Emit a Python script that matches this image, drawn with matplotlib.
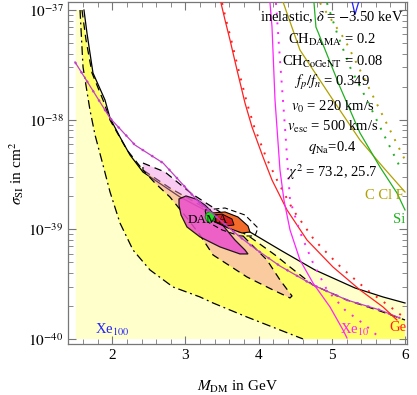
import numpy as np
import matplotlib
matplotlib.use("Agg")
import matplotlib.pyplot as plt
from matplotlib.ticker import MultipleLocator, FixedLocator, NullFormatter

plt.rcParams['font.family'] = ['Liberation Serif', 'DejaVu Serif']
plt.rcParams['mathtext.fontset'] = 'stix'

# ---------------- data (x in GeV, y as log10 of cross-section in cm^2) -------------
# outer (light yellow) region upper boundary - solid black
solid_x = [1.613, 1.654, 1.736, 1.900, 1.969, 2.105, 2.242, 2.419, 2.925, 3.471, 3.881, 4.318, 4.769, 5.315, 5.698, 5.999]
solid_ly = [-37.0, -37.21, -37.574, -37.82, -37.985, -38.158, -38.322, -38.477, -38.705, -38.896, -39.024, -39.197, -39.37, -39.534, -39.616, -39.671]

# bright yellow region upper boundary - dashed
dash_x = [1.586, 1.641, 1.723, 1.873, 1.969, 2.201, 2.419, 2.788, 3.198, 3.540, 3.881, 4.223, 4.428, 4.742, 5.206, 5.657, 5.999]
dash_ly = [-37.0, -37.273, -37.574, -37.82, -38.003, -38.276, -38.459, -38.623, -38.778, -38.933, -39.069, -39.233, -39.343, -39.507, -39.644, -39.744, -39.826]

# bright yellow region lower boundary - dash-dot
dd_x = [1.559, 1.600, 1.695, 1.764, 1.873, 1.969, 2.105, 2.283, 2.515, 2.829, 3.198, 3.376, 3.840, 4.291, 4.605]
dd_ly = [-37.0, -37.52, -37.912, -38.139, -38.413, -38.659, -38.942, -39.188, -39.37, -39.525, -39.616, -39.671, -39.799, -39.917, -39.999]

# big CoGeNT-like ellipse (pink, dashed edge)
pink_x = [2.419, 2.720, 3.089, 3.471, 3.840, 4.113, 4.291, 4.455, 4.428, 4.195, 3.840, 3.376, 3.198, 3.020, 2.788, 2.583, 2.419]
pink_ly = [-38.395, -38.477, -38.677, -38.841, -39.097, -39.279, -39.461, -39.607, -39.625, -39.552, -39.434, -39.233, -39.051, -38.896, -38.705, -38.577, -38.459]

# inner magenta region
mag_x = [2.911, 3.007, 3.143, 3.266, 3.403, 3.540, 3.676, 3.813, 3.854, 3.744, 3.471, 3.198, 3.020, 2.939, 2.911]
mag_ly = [-38.723, -38.695, -38.723, -38.778, -38.869, -38.987, -39.097, -39.188, -39.224, -39.224, -39.160, -39.069, -38.978, -38.869, -38.778]

# orange region, its dashed outer contour, red core, green blob
org_x = [3.362, 3.540, 3.717, 3.854, 3.881, 3.772, 3.581, 3.403, 3.335]
org_ly = [-38.851, -38.841, -38.887, -38.969, -39.024, -39.033, -38.987, -38.933, -38.887]
orgd_x = [3.266, 3.540, 3.813, 3.990, 3.949, 3.744, 3.499, 3.307, 3.266]
orgd_ly = [-38.823, -38.805, -38.869, -38.987, -39.060, -39.060, -39.005, -38.933, -38.823]
red_x = [3.376, 3.499, 3.635, 3.663, 3.553, 3.417]
red_ly = [-38.869, -38.860, -38.905, -38.960, -38.969, -38.933]
grn_x = [3.267, 3.287, 3.335, 3.383, 3.403, 3.383, 3.335, 3.287]
grn_ly = [-38.887, -38.852, -38.837, -38.852, -38.887, -38.922, -38.937, -38.922]

# exclusion-type curves
purple_x = [1.490, 1.969, 2.310, 2.694, 3.157, 3.471, 3.744, 3.977, 4.291, 4.742, 5.206, 5.657, 5.930]
purple_ly = [-37.474, -37.985, -38.231, -38.395, -38.732, -38.914, -39.069, -39.188, -39.334, -39.507, -39.644, -39.735, -39.808]

ge_x = [3.485, 3.540, 3.608, 3.704, 3.813, 3.909, 4.059, 4.182, 4.387, 4.660, 5.015, 5.384, 5.698, 5.889]
ge_ly = [-36.936, -37.091, -37.273, -37.547, -37.848, -38.067, -38.340, -38.550, -38.823, -39.097, -39.343, -39.552, -39.707, -39.826]
ge_dot_x = [3.50, 3.555, 3.625, 3.725, 3.84, 3.94, 4.10, 4.25, 4.47, 4.76, 5.12, 5.48, 5.80, 5.98]
ge_dot_ly = [-36.936, -37.091, -37.273, -37.547, -37.848, -38.067, -38.34, -38.55, -38.823, -39.097, -39.343, -39.552, -39.707, -39.80]

xe10_x = [4.155, 4.182, 4.223, 4.291, 4.345, 4.428, 4.564, 4.742, 4.974, 5.152, 5.206]
xe10_ly = [-36.936, -37.155, -37.820, -38.459, -38.732, -39.005, -39.279, -39.489, -39.707, -39.917, -39.99]
xe10_dot_x = [4.236, 4.291, 4.359, 4.428, 4.564, 4.742, 4.933, 5.179, 5.452, 5.657]
xe10_dot_ly = [-36.936, -37.456, -38.067, -38.732, -39.024, -39.306, -39.552, -39.735, -39.871, -39.99]

ccf_x = [4.333, 4.564, 5.015, 5.384, 5.698, 5.999]
ccf_ly = [-36.927, -37.365, -37.820, -38.185, -38.431, -38.659]
ccf_dot_x = [4.838, 5.179, 5.452, 5.725, 5.999]
ccf_dot_ly = [-36.936, -37.273, -37.638, -38.003, -38.367]

si_x = [4.755, 4.782, 4.810, 5.111, 5.384, 5.657, 5.889, 5.999]
si_ly = [-36.927, -37.155, -37.200, -37.702, -38.121, -38.431, -38.668, -38.823]
si_dot_x = [4.933, 5.070, 5.247, 5.479, 5.698, 5.930]
si_dot_ly = [-36.936, -37.21, -37.52, -37.82, -38.121, -38.431]

xe100_x = [5.25, 5.316, 5.40]
xe100_ly = [-36.85, -37.04, -36.85]

x_lo, x_hi = 1.5, 6.0
y_lo_l, y_hi_l = -40.0, -37.0

x_ticks = [2, 3, 4, 5, 6]
y_tick_exp = [-40, -39, -38, -37]

info_lines = [r"inelastic, $\delta$ = $-$3.50 keV",
              r"CH$_{\rm DAMA}$ = 0.2",
              r"CH$_{\rm CoGeNT}$ = 0.08",
              r"$f_p/f_n$ = 0.349",
              r"$v_0$ = 220 km/s",
              r"$v_{\rm esc}$ = 500 km/s",
              r"$q_{\rm Na}$=0.4",
              r"$\chi^2$ = 73.2, 25.7"]

P = lambda a: np.power(10.0, np.asarray(a, dtype=float))

# ---------------- figure ----------------
fig = plt.figure(figsize=(4.17, 3.95), dpi=100)
ax = fig.add_axes([0.1638, 0.1291, 0.8134, 0.8658])
ax.set_yscale('log')

LY = '#FFFFCC'
BY = '#FFFF66'

# light yellow region
lx = [x_lo, x_lo] + solid_x + [x_hi]
lyv = [y_lo_l, y_hi_l] + solid_ly + [y_lo_l]
ax.fill(lx, P(lyv), color=LY, lw=0, zorder=1)
# bright yellow region
bx = dash_x + [x_hi, dd_x[-1]] + dd_x[::-1]
byv = dash_ly + [y_lo_l, y_lo_l] + dd_ly[::-1]
ax.fill(bx, P(byv), color=BY, lw=0, zorder=2)

ax.plot(solid_x, P(solid_ly), color='black', lw=0.9, zorder=3)
ax.plot(dash_x, P(dash_ly), color='black', lw=0.9, ls=(0, (6, 4)), zorder=3)
ax.plot(dd_x, P(dd_ly), color='black', lw=0.9, ls=(0, (7, 3, 1.5, 3)), zorder=3)

# pink region
ax.fill(pink_x, P(pink_ly), facecolor=(0.95, 0.55, 0.90), alpha=0.45, lw=0, zorder=4)
ax.plot(pink_x + [pink_x[0]], P(pink_ly + [pink_ly[0]]), color='black', lw=0.9, ls=(0, (6, 4)), zorder=4)

ax.fill(mag_x, P(mag_ly), facecolor=(0.92, 0.30, 0.80), alpha=0.85, edgecolor='black', lw=0.9, zorder=5)

ax.plot(orgd_x, P(orgd_ly), color='black', lw=0.8, ls=(0, (5, 3)), zorder=6)
ax.fill(org_x, P(org_ly), facecolor='#F26B2A', edgecolor='black', lw=0.8, zorder=7)
ax.fill(red_x, P(red_ly), facecolor='#D42020', edgecolor='black', lw=0.7, zorder=8)
ax.fill(grn_x, P(grn_ly), facecolor='#22DD22', edgecolor='#117711', lw=0.6, zorder=9)

ax.text(3.31, P(-38.914), "DAMA", fontsize=9.5, ha='center', va='center', color='black', zorder=9.5)

# curves
PU = '#C040C8'
ax.plot(purple_x, P(purple_ly), color=PU, lw=0.9, zorder=10)
ax.plot(purple_x, P(purple_ly), color=PU, lw=1.6, ls=(0, (1, 4)), zorder=10)

RD = '#FF2020'
ax.plot(ge_x, P(ge_ly), color=RD, lw=0.9, zorder=10)
ax.plot(ge_dot_x, P(ge_dot_ly), color=RD, lw=1.4, ls=(0, (1, 4)), zorder=10)

MG = '#FF22FF'
ax.plot(xe10_x, P(xe10_ly), color=MG, lw=0.9, zorder=10)
ax.plot(xe10_dot_x, P(xe10_dot_ly), color=MG, lw=1.4, ls=(0, (1, 4)), zorder=10)

OL = '#B0A000'
ax.plot(ccf_x, P(ccf_ly), color=OL, lw=0.9, zorder=10)
ax.plot(ccf_dot_x, P(ccf_dot_ly), color=OL, lw=1.4, ls=(0, (1, 4)), zorder=10)

GR = '#20B020'
ax.plot(si_x, P(si_ly), color=GR, lw=0.9, zorder=10)
ax.plot(si_dot_x, P(si_dot_ly), color=GR, lw=1.4, ls=(0, (1, 4)), zorder=10)

BL = '#2222FF'
ax.plot(xe100_x, P(xe100_ly), color=BL, lw=0.9, zorder=10)

# labels
ax.text(1.765, P(-39.917), r"Xe$_{100}$", color=BL, fontsize=10.5, ha='left', va='center', zorder=11)
ax.text(5.115, P(-39.917), r"Xe$_{10}$", color=MG, fontsize=10.5, ha='left', va='center', zorder=11)
ax.text(5.79, P(-39.89), "Ge", color=RD, fontsize=10.5, ha='left', va='center', zorder=11)
ax.text(5.45, P(-38.695), "C Cl F", color=OL, fontsize=10.5, ha='left', va='center', zorder=11)
ax.text(5.83, P(-38.914), "Si", color=GR, fontsize=10.5, ha='left', va='center', zorder=11)

ys = [0.956, 0.889, 0.825, 0.766, 0.693, 0.635, 0.576, 0.503]
for t, yy in zip(info_lines, ys):
    ax.text(0.778, yy, t, transform=ax.transAxes, fontsize=10.5, ha='center', va='center', zorder=12)

ax.set_xlim(1.399, 6.033)
ax.set_ylim(P(-40.045), P(-36.927))

ax.xaxis.set_major_locator(FixedLocator(x_ticks))
ax.xaxis.set_minor_locator(MultipleLocator(0.2))
ax.set_xticklabels([str(v) for v in x_ticks])
ax.yaxis.set_major_locator(FixedLocator(P(y_tick_exp)))
ax.set_yticklabels([r"$10^{%d}$" % e for e in y_tick_exp])
ax.yaxis.set_minor_locator(FixedLocator([m * 10.0 ** e for e in [-41, -40, -39, -38, -37] for m in range(2, 10)]))
ax.yaxis.set_minor_formatter(NullFormatter())
ax.tick_params(which='both', direction='in', top=True, right=True, color='#777777', labelsize=11)
ax.tick_params(which='major', length=6, width=0.8)
ax.tick_params(which='minor', length=3.5, width=0.6)
for s in ax.spines.values():
    s.set_color('#777777')
    s.set_linewidth(0.9)

ax.set_xlabel(r"$M_{\rm DM}$ in GeV", fontsize=11, labelpad=12)
ax.set_ylabel(r"$\sigma_{\rm SI}$ in cm$^2$", fontsize=11, labelpad=2)

fig.savefig("out.png", dpi=100)
